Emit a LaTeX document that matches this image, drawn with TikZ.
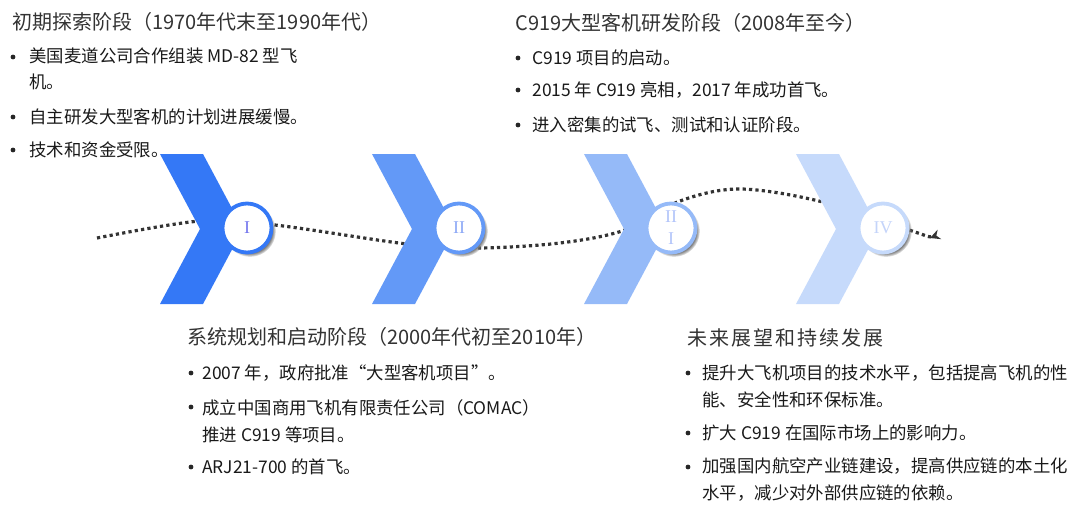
\documentclass[tikz,border=0pt]{standalone}
\usepackage{fontspec}
\setmainfont{Noto Sans CJK SC}
\newfontfamily\numfont{Liberation Serif}
\usepackage{xcolor}
\usetikzlibrary{arrows.meta,shadows}

\definecolor{c1}{RGB}{52,120,246}
\definecolor{c2}{RGB}{99,153,247}
\definecolor{c3}{RGB}{149,186,248}
\definecolor{c4}{RGB}{198,218,251}
\definecolor{n1}{RGB}{115,118,238}
\definecolor{n2}{RGB}{140,168,246}
\definecolor{n3}{RGB}{178,196,250}
\definecolor{n4}{RGB}{196,212,250}

\begin{document}
\begin{tikzpicture}[x=0.5pt,y=-0.5pt,
  head/.style={anchor=base west,inner sep=0pt,font=\fontsize{10}{12}\selectfont,text=black!80},
  item/.style={anchor=base west,inner sep=0pt,align=left,font=\fontsize{8.7}{13.3}\selectfont,text=black!90},
  dot/.style={circle,fill=black!85,inner sep=0pt,minimum size=2.4pt},
  stage/.style={circle,fill=white,line width=1.9pt,minimum size=24.5pt,inner sep=0pt,
    font=\numfont\fontsize{9}{9}\selectfont,
    circular drop shadow={shadow xshift=1.4pt,shadow yshift=-1.4pt,shadow scale=1.06}},
  trail/.style={draw=black!80,line width=1.6pt,dash pattern=on 1.6pt off 1.6pt,
    -{Stealth[length=5pt,width=5pt]}},
]
\useasboundingbox (0,0) rectangle (1080,519);

% Path behind the stages
\coordinate (trailstart) at (97,238);
\coordinate (trailend) at (930,238);
\draw[trail] plot[smooth,tension=0.55] coordinates {(trailstart) (200,221) (275,225) (407,244)
  (478,248) (560,243) (625,230) (680,201) (740,189) (823,202) (915,232) (trailend)};

% Chevrons
\fill[c1] (160,154) -- (203,154) -- (243,229) -- (203,304) -- (160,304) -- (200,229) -- cycle;
\fill[c2] (372,154) -- (415,154) -- (455,229) -- (415,304) -- (372,304) -- (412,229) -- cycle;
\fill[c3] (584,154) -- (627,154) -- (667,229) -- (627,304) -- (584,304) -- (624,229) -- cycle;
\fill[c4] (796,154) -- (839,154) -- (879,229) -- (839,304) -- (796,304) -- (836,229) -- cycle;

% Stage circles
\node[stage,draw=c1,text=n1] (s1) at (247,228) {I};
\node[stage,draw=c2,text=n2] (s2) at (459,228) {II};
\node[stage,draw=c3,text=n3,align=center,font=\numfont\fontsize{9}{11}\selectfont] (s3) at (671,228) {II\\I};
\node[stage,draw=c4,text=n4] (s4) at (883,228) {IV};

% Stage 1 (top left)
\node[head] (h1) at (12,30) {初期探索阶段（1970年代末至1990年代）};
\node[dot] (d11) at (13,57) {};
\node[item] (b11) at (29,89) {美国麦道公司合作组装 MD-82 型飞\\机。};
\node[dot] (d12) at (13,117) {};
\node[item] (b12) at (29,123.5) {自主研发大型客机的计划进展缓慢。};
\node[dot] (d13) at (13,150) {};
\node[item] (b13) at (29,156.5) {技术和资金受限。};

% Stage 2 (bottom left)
\node[head] (h2) at (187,344.6) {系统规划和启动阶段（2000年代初至2010年）};
\node[dot] (d21) at (191,373) {};
\node[item] (b21) at (202,379.5) {2007 年，政府批准“大型客机项目”。};
\node[dot] (d22) at (191,407) {};
\node[item] (b22) at (202,441) {成立中国商用飞机有限责任公司（COMAC）\\推进 C919 等项目。};
\node[dot] (d23) at (191,467) {};
\node[item] (b23) at (202,473.5) {ARJ21-700 的首飞。};

% Stage 3 (top right)
\node[head] (h3) at (515,30.5) {C919大型客机研发阶段（2008年至今）};
\node[dot] (d31) at (518,58) {};
\node[item] (b31) at (532,64.5) {C919 项目的启动。};
\node[dot] (d32) at (518,90) {};
\node[item] (b32) at (532,96.5) {2015 年 C919 亮相，2017 年成功首飞。};
\node[dot] (d33) at (518,125) {};
\node[item] (b33) at (532,131.5) {进入密集的试飞、测试和认证阶段。};

% Stage 4 (bottom right)
\node[head,font=\fontsize{10}{12}\selectfont\addfontfeatures{LetterSpace=10}] (h4) at (687,345) {未来展望和持续发展};
\node[dot] (d41) at (688,373) {};
\node[item] (b41) at (702,406.5) {提升大飞机项目的技术水平，包括提高飞机的性\\能、安全性和环保标准。};
\node[dot] (d42) at (688,433) {};
\node[item] (b42) at (702,439.5) {扩大 C919 在国际市场上的影响力。};
\node[dot] (d43) at (688,467) {};
\node[item] (b43) at (702,499.5) {加强国内航空产业链建设，提高供应链的本土化\\水平，减少对外部供应链的依赖。};
\end{tikzpicture}
\end{document}
